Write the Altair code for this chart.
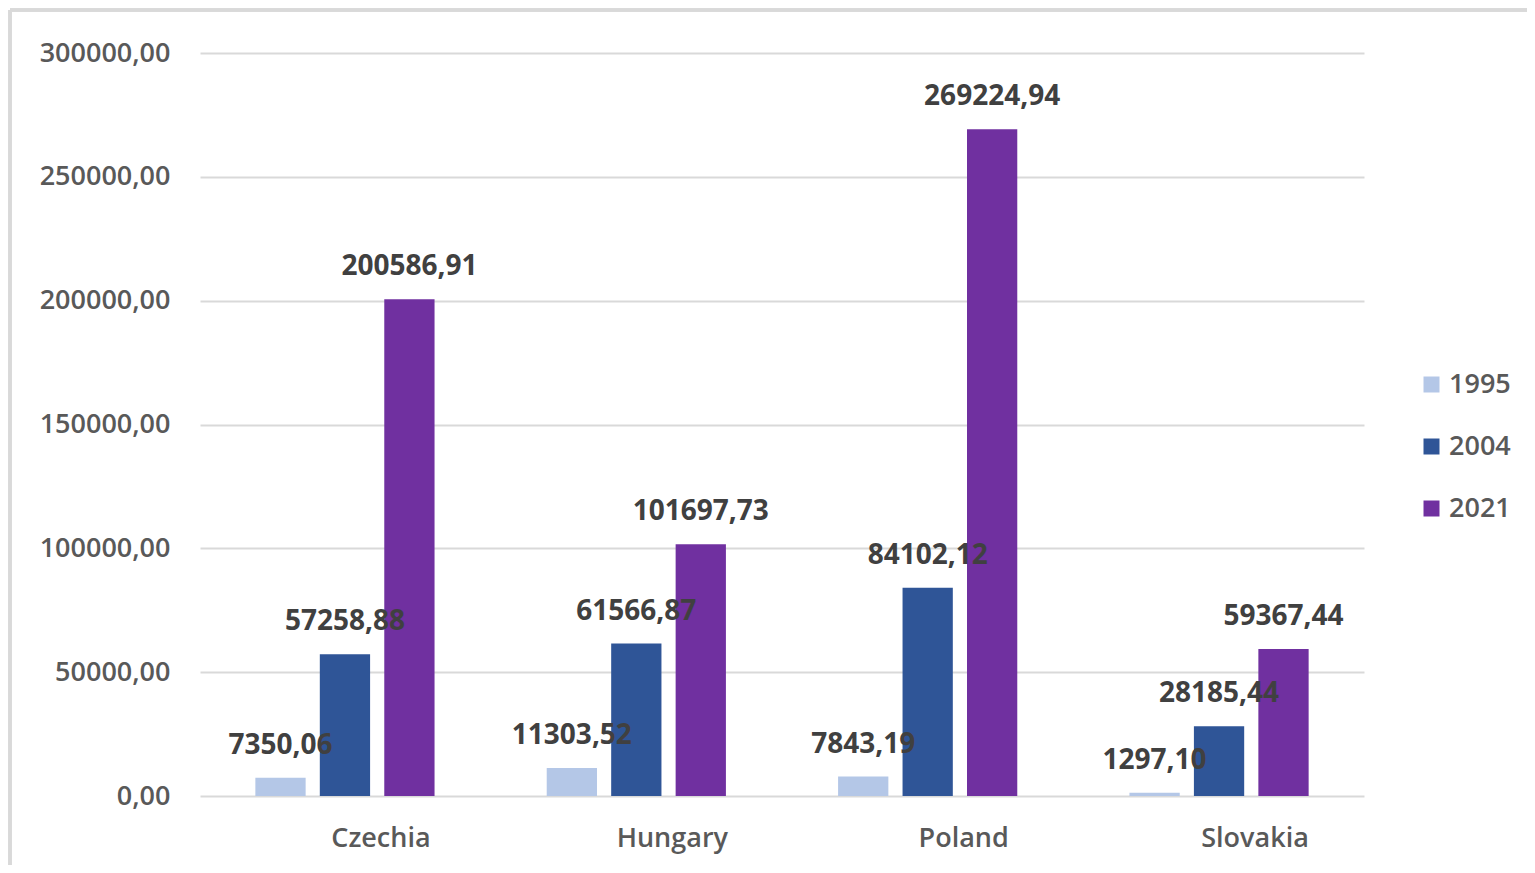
import altair as alt
import pandas as pd

countries = ["Czechia", "Hungary", "Poland", "Slovakia"]
years = ["1995", "2004", "2021"]
v1995 = [7350.06, 11303.52, 7843.19, 1297.10]
v2004 = [57258.88, 61566.87, 84102.12, 28185.44]
v2021 = [200586.91, 101697.73, 269224.94, 59367.44]
colors = ["#B4C7E7", "#2F5597", "#7030A0"]

rows = []
for i, c in enumerate(countries):
    for y, vals in zip(years, [v1995, v2004, v2021]):
        rows.append({"country": c, "year": y, "value": vals[i]})
df = pd.DataFrame(rows)

FONT = "Open Sans"

base = alt.Chart(df).transform_calculate(
    label="replace(format(datum.value, '.2f'), '.', ',')"
)

x = alt.X("country:N", sort=countries, title=None,
          scale=alt.Scale(paddingInner=0.385, paddingOuter=0.19),
          axis=alt.Axis(labelAngle=0, labelFontSize=27, labelColor="#595959",
                        labelFont=FONT, labelFontWeight=600, labelPadding=29,
                        ticks=False, domain=False, labelOffset=36))
xo = alt.XOffset("year:N", sort=years,
                 scale=alt.Scale(paddingInner=0.22, paddingOuter=0))
y = alt.Y("value:Q", title=None,
          scale=alt.Scale(domain=[0, 300000], nice=False),
          axis=alt.Axis(values=[0, 50000, 100000, 150000, 200000, 250000, 300000],
                        labelExpr="replace(format(datum.value, '.2f'), '.', ',')",
                        labelFontSize=27, labelColor="#595959", labelFont=FONT,
                        labelFontWeight=600, labelPadding=30, ticks=False,
                        domain=False, gridColor="#D9D9D9", gridWidth=2))

bars = base.mark_bar().encode(
    x=x, xOffset=xo, y=y,
    color=alt.Color("year:N", sort=years,
                    scale=alt.Scale(domain=years, range=colors),
                    legend=alt.Legend(title=None, orient="none", legendX=1218,
                                      legendY=318, symbolType="square",
                                      symbolSize=256, symbolStrokeWidth=0,
                                      labelFontSize=27, labelColor="#595959",
                                      labelFont=FONT, labelFontWeight=600,
                                      rowPadding=34, labelOffset=4)),
)

texts = base.mark_text(fontSize=28, fontWeight="bold", color="#404040",
                       font=FONT, baseline="alphabetic", dy=-24).encode(
    x=alt.X("country:N", sort=countries), xOffset=alt.XOffset("year:N", sort=years),
    y="value:Q", text="label:N"
)

border_top = base.mark_rule(color="#D9D9D9", strokeWidth=3).encode(
    x=alt.value(-190), x2=alt.value(1340), y=alt.value(-43))
border_left = base.mark_rule(color="#D9D9D9", strokeWidth=3).encode(
    x=alt.value(-190), y=alt.value(-43), y2=alt.value(830))

chart = alt.layer(bars, texts, border_top, border_left).properties(
    width=1164, height=743,
    autosize=alt.AutoSizeParams(type="none"),
    padding={"left": 192, "top": 45, "right": 163, "bottom": 69},
).configure_view(stroke=None)

chart.save("out.html", embed_options={"renderer": "svg", "actions": False})
